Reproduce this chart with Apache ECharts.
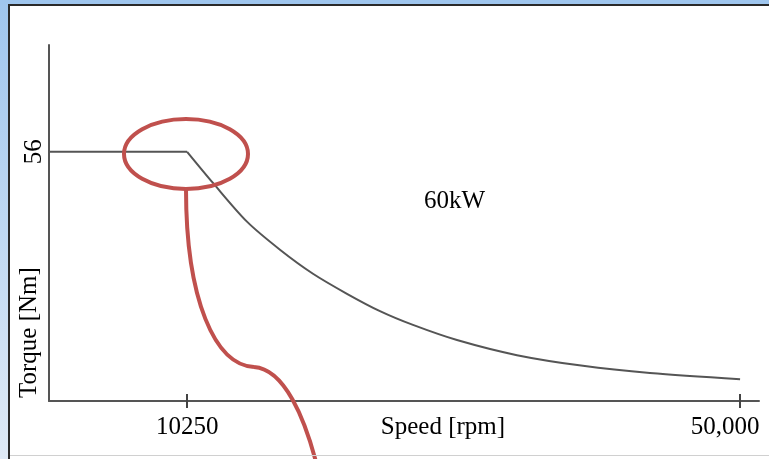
<!DOCTYPE html>
<html>
<head>
<meta charset="utf-8">
<script src="https://cdn.jsdelivr.net/npm/echarts@6/dist/echarts.min.js"></script>
<style>
html,body{margin:0;padding:0;background:#fff;}
#chart{width:769px;height:459px;}
</style>
</head>
<body>
<div id="chart"></div>
<script>
// Data
var flatSpeed  = [320, 10250];
var flatTorque = [56, 56];
var curveSpeed  = [10250, 12108, 14552, 16924, 19297, 21740, 24113, 26485, 29647, 33960, 38704, 43520, 50000];
var curveTorque = [56,    49.0,  40.3,  34.0,  28.6,  24.1,  20.2,  17.1,  13.7,  10.3,  7.9,   6.3,   4.9];
var xTickValues = [10250, 50000];
var xTickLabels = ['10250', '50,000'];
var yTickValues = [56];
var yTickLabels = ['56'];
var xAxisTitle = 'Speed [rpm]';
var yAxisTitle = 'Torque [Nm]';
var powerLabel = '60kW';

var serif = '"Liberation Serif", "DejaVu Serif", serif';
var chart = echarts.init(document.getElementById('chart'));

function zip(a, b) { return a.map(function (s, i) { return [s, b[i]]; }); }

chart.setOption({
  backgroundColor: '#ffffff',
  animation: false,
  grid: { left: 49, right: 10, top: 45, bottom: 58, containLabel: false, outerBoundsMode: 'none' },
  xAxis: [{
    type: 'value',
    min: 320, max: 51360,
    position: 'bottom',
    name: xAxisTitle,
    nameLocation: 'middle',
    nameGap: 14,
    nameMoveOverlap: false,
    nameTextStyle: { fontFamily: serif, fontSize: 25, color: '#000', verticalAlign: 'top', padding: [0, 0, 0, 78] },
    axisLine: { show: true, lineStyle: { color: '#555', width: 2 } },
    axisTick: { show: true, customValues: xTickValues, length: 7, lineStyle: { color: '#444', width: 2 } },
    axisLabel: {
      customValues: xTickValues,
      fontFamily: serif, fontSize: 25, color: '#000', margin: 14,
      formatter: function (v) {
        var i = xTickValues.indexOf(v);
        var t = i >= 0 ? xTickLabels[i] : '';
        return i === xTickValues.length - 1 ? '{last|' + t + '}' : t;
      },
      rich: { last: { fontFamily: serif, fontSize: 25, color: '#000', padding: [0, 30, 0, 0] } }
    },
    splitLine: { show: false }
  }, {
    type: 'value',
    min: 320, max: 51360,
    position: 'bottom',
    axisLine: { show: false },
    axisTick: { show: true, inside: true, customValues: xTickValues, length: 7, lineStyle: { color: '#444', width: 2 } },
    axisLabel: { show: false },
    splitLine: { show: false }
  }],
  yAxis: {
    type: 'value',
    min: 0, max: 80,
    name: yAxisTitle,
    nameLocation: 'start',
    nameGap: -3,
    nameRotate: 90,
    nameMoveOverlap: false,
    nameTextStyle: { fontFamily: serif, fontSize: 25, color: '#000', align: 'left', verticalAlign: 'bottom', padding: [0, 0, 7, 0] },
    axisLine: { show: true, lineStyle: { color: '#555', width: 2 } },
    axisTick: { show: false },
    axisLabel: {
      customValues: yTickValues,
      rotate: 90, margin: 2,
      fontFamily: serif, fontSize: 25, color: '#000',
      formatter: function (v) { var i = yTickValues.indexOf(v); return i >= 0 ? yTickLabels[i] : ''; }
    },
    splitLine: { show: false }
  },
  series: [{
    type: 'line',
    xAxisIndex: 0,
    data: zip(flatSpeed, flatTorque),
    showSymbol: false,
    symbol: 'none',
    lineStyle: { color: '#555', width: 2 }
  }, {
    type: 'line',
    xAxisIndex: 0,
    data: zip(curveSpeed, curveTorque),
    showSymbol: false,
    symbol: 'none',
    smooth: 0.3,
    lineStyle: { color: '#555', width: 2 }
  }],
  graphic: [
    { type: 'rect', shape: { x: 0, y: 0, width: 8, height: 459 }, style: { fill: new echarts.graphic.LinearGradient(0, 0, 0, 1, [{ offset: 0, color: '#9fc6ee' }, { offset: 1, color: '#dfeaf6' }]) }, z: 100 },
    { type: 'rect', shape: { x: 0, y: 0, width: 769, height: 4 }, style: { fill: '#9fc6ee' }, z: 100 },
    { type: 'rect', shape: { x: 8, y: 4, width: 2, height: 455 }, style: { fill: '#2a2a2a' }, z: 101 },
    { type: 'rect', shape: { x: 8, y: 4, width: 761, height: 2 }, style: { fill: '#2a2a2a' }, z: 101 },
    { type: 'rect', shape: { x: 10, y: 455, width: 759, height: 1 }, style: { fill: '#d0d0d0' }, z: 101 },
    { type: 'text', x: 424, y: 189, style: { text: powerLabel, font: '25px ' + serif, fill: '#000' }, z: 50 },
    { type: 'ellipse', shape: { cx: 186, cy: 154, rx: 62, ry: 35 }, style: { fill: 'none', stroke: '#c0504d', lineWidth: 4 }, z: 60 },
    { type: 'bezierCurve', shape: { x1: 186, y1: 189, cpx1: 186, cpy1: 300, cpx2: 215, cpy2: 365, x2: 254, y2: 367 }, style: { fill: 'none', stroke: '#c0504d', lineWidth: 4 }, z: 60 },
    { type: 'bezierCurve', shape: { x1: 254, y1: 367, cpx1: 285, cpy1: 369, cpx2: 305, cpy2: 420, x2: 316, y2: 462 }, style: { fill: 'none', stroke: '#c0504d', lineWidth: 4 }, z: 60 }
  ]
});
</script>
</body>
</html>
